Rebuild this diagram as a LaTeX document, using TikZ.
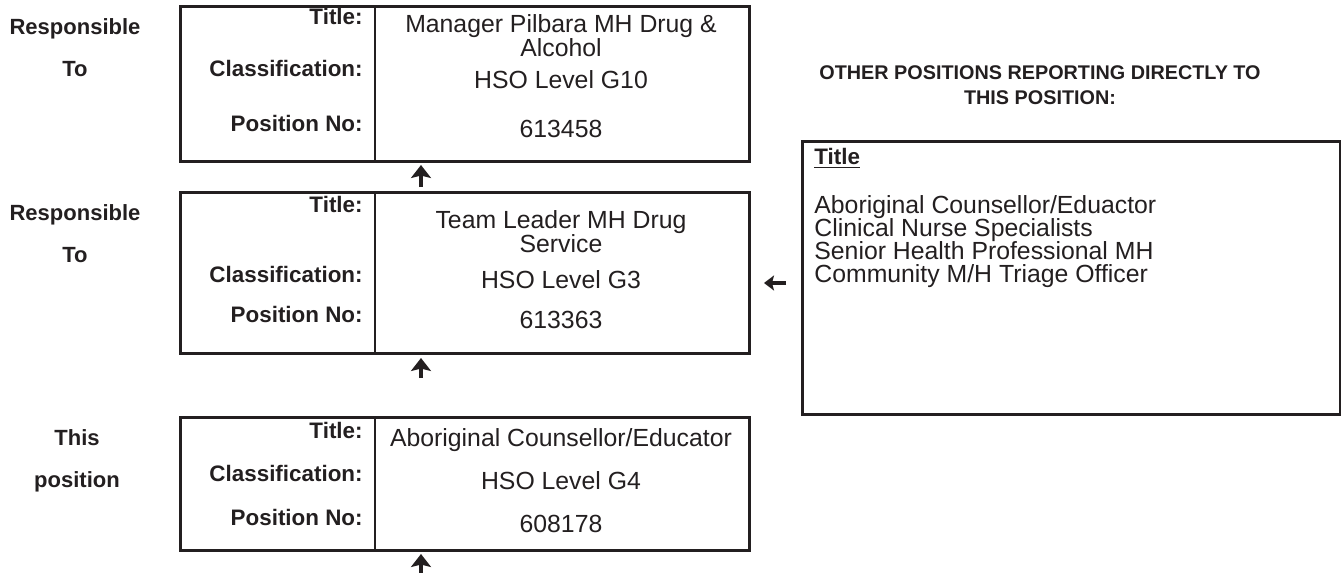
\documentclass[tikz,border=0pt]{standalone}
\usepackage{fontspec}
\setmainfont{Liberation Sans}
\usepackage{xcolor}
\usetikzlibrary{arrows.meta}
\definecolor{ink}{RGB}{35,31,32}

\begin{document}
\begin{tikzpicture}[x=0.5pt,y=-0.5pt,color=ink,
	posbox/.style={draw=ink,line width=1.3pt,inner sep=0pt,anchor=north west},
	fieldlbl/.style={anchor=base east,inner sep=0pt,font=\fontsize{11.2}{13}\selectfont\bfseries},
	fieldval/.style={anchor=base,inner sep=0pt,font=\fontsize{12.4}{12.3}\selectfont},
	sidelbl/.style={anchor=base,inner sep=0pt,font=\fontsize{11}{13}\selectfont\bfseries},
	uparr/.style={line width=2.3pt,-{Stealth[width=10pt,length=6.5pt,inset=1.2pt]}},
	leftarr/.style={line width=1.6pt,-{Stealth[width=7.5pt,length=5pt,inset=1pt]}}]
	\useasboundingbox (0,0) rectangle (1341,573);

	% the three position boxes, split in label and value column
	\foreach \n/\ya/\yb in {mgr/5/160, lead/191/352, self/416/549} {
		\node[posbox,minimum width=284.5pt,minimum height={(\yb-\ya)*0.5pt}] (\n) at (179,\ya) {};
		\draw[line width=1.3pt] ([xshift=98pt]\n.north west) -- ([xshift=98pt]\n.south west);
	}

	% field labels in the left column
	\foreach \n/\ya/\yb/\yc in {mgr/25/76/131, lead/212/282/322, self/438/481/525} {
		\node[fieldlbl] (\n-t) at (363,\ya) {Title:};
		\node[fieldlbl] (\n-c) at (363,\yb) {Classification:};
		\node[fieldlbl] (\n-p) at (363,\yc) {Position No:};
	}

	% the values
	\node[fieldval,anchor=north,align=center] (mgr-tv) at (561,14) {Manager Pilbara MH Drug \&\\Alcohol};
	\node[fieldval] (mgr-cv) at (561,89) {HSO Level G10};
	\node[fieldval] (mgr-pv) at (561,137) {613458};
	\node[fieldval,anchor=north,align=center] (lead-tv) at (561,210) {Team Leader MH Drug\\Service};
	\node[fieldval] (lead-cv) at (561,288) {HSO Level G3};
	\node[fieldval] (lead-pv) at (561,328) {613363};
	\node[fieldval] (self-tv) at (561,446) {Aboriginal Counsellor/Educator};
	\node[fieldval] (self-cv) at (561,489) {HSO Level G4};
	\node[fieldval] (self-pv) at (561,532) {608178};

	% labels left of the boxes
	\node[sidelbl] (resp1) at (75,34) {Responsible};
	\node[sidelbl] (to1) at (75,76) {To};
	\node[sidelbl] (resp2) at (75,220) {Responsible};
	\node[sidelbl] (to2) at (75,262) {To};
	\node[sidelbl] (this) at (77,445) {This};
	\node[sidelbl] (pos) at (77,487) {position};

	% up arrows between the boxes
	\foreach \k/\ya/\yb in {1/187/165, 2/378/358, 3/576/554} {
		\coordinate (up\k a) at (421,\ya);
		\coordinate (up\k b) at (421,\yb);
		\draw[uparr] (up\k a) -- (up\k b);
	}

	% other positions reporting to this one
	\node[anchor=north,align=center,inner sep=0pt,font=\fontsize{9.9}{12.5}\selectfont\bfseries] (head) at (1040,65)
		{OTHER POSITIONS REPORTING DIRECTLY TO\\THIS POSITION:};
	\node[posbox,minimum width=269pt,minimum height=136.5pt] (others) at (801,140) {};
	\node[anchor=base west,inner sep=0pt,font=\fontsize{11.2}{13}\selectfont\bfseries] (others-t) at (814,164) {\underline{Title}};
	\node[anchor=north west,align=left,inner sep=0pt,font=\fontsize{12.4}{11.6}\selectfont] (others-l) at (814,195)
		{Aboriginal Counsellor/Eduactor\\Clinical Nurse Specialists\\Senior Health Professional MH\\Community M/H Triage Officer};
	\coordinate (lfa) at (786,283);
	\coordinate (lfb) at (764,283);
	\draw[leftarr] (lfa) -- (lfb);
\end{tikzpicture}
\end{document}
